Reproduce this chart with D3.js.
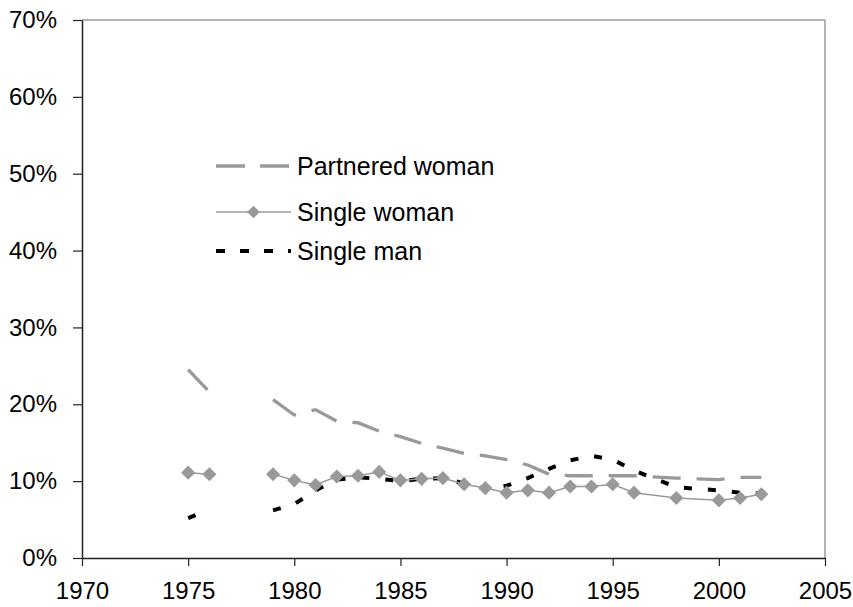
<!DOCTYPE html>
<html>
<head>
<meta charset="utf-8">
<script src="https://cdn.jsdelivr.net/npm/d3@7"></script>
<style>
html,body{margin:0;padding:0;background:#fff;}
svg{display:block;}
text{font-family:"Liberation Sans",Arial,sans-serif;fill:#000;}
</style>
</head>
<body>
<svg id="chart" width="853" height="607"></svg>
<script>
// Data
const years = [1975,1976,1977,1978,1979,1980,1981,1982,1983,1984,1985,1986,1987,1988,1989,1990,1991,1992,1993,1994,1995,1996,1998,2000,2001,2002];
const partneredWoman = [24.5,21.6,null,null,20.6,18.6,19.3,17.8,17.6,16.5,15.8,14.9,14.3,13.6,13.3,12.8,12.1,10.9,10.7,10.7,10.7,10.7,10.4,10.2,10.5,10.5];
const singleWoman = [11.1,10.9,null,null,10.9,10.1,9.5,10.6,10.7,11.2,10.1,10.3,10.4,9.6,9.1,8.5,8.8,8.5,9.3,9.3,9.6,8.5,7.8,7.5,7.8,8.3];
const singleMan = [5.2,6.3,null,null,6.2,7.0,8.8,10.2,10.5,10.3,10.0,10.3,10.4,9.7,9.0,9.4,10.4,11.6,12.7,13.3,12.8,11.4,9.2,8.8,8.5,8.4];
const xTicks = [1970,1975,1980,1985,1990,1995,2000,2005];
const yTicks = [0,10,20,30,40,50,60,70];
const seriesNames = ["Partnered woman","Single woman","Single man"];

const svg = d3.select("#chart");
const L = 82, R = 825, T = 20, B = 558;
const x = d3.scaleLinear().domain([1970,2005]).range([L,R]);
const y = d3.scaleLinear().domain([0,70]).range([B,T]);

// frame (top/right gray)
svg.append("line").attr("x1",L).attr("x2",R).attr("y1",T).attr("y2",T).attr("stroke","#999").attr("stroke-width",1.5);
svg.append("line").attr("x1",R).attr("x2",R).attr("y1",T).attr("y2",B).attr("stroke","#999").attr("stroke-width",1.5);

// axes
const xAxis = d3.axisBottom(x).tickValues(xTicks).tickFormat(d3.format("d")).tickSizeInner(8).tickSizeOuter(0).tickPadding(16);
const gx = svg.append("g").attr("transform",`translate(0,${B})`).call(xAxis);
gx.select(".domain").attr("stroke","#222").attr("stroke-width",1.5);
gx.selectAll(".tick line").attr("stroke","#222").attr("stroke-width",1.2);
gx.selectAll("text").attr("font-size",24).attr("font-family","Liberation Sans, Arial, sans-serif").attr("fill","#000");

const yAxis = d3.axisLeft(y).tickValues(yTicks).tickFormat(d => d + "%").tickSizeInner(9).tickSizeOuter(0).tickPadding(16);
const gy = svg.append("g").attr("transform",`translate(${L},0)`).call(yAxis);
gy.select(".domain").attr("stroke","#222").attr("stroke-width",1.5);
gy.selectAll(".tick line").attr("stroke","#222").attr("stroke-width",1.2);
gy.selectAll("text").attr("font-size",24).attr("font-family","Liberation Sans, Arial, sans-serif").attr("fill","#000");

const mk = arr => years.map((yr,i)=>({yr, v:arr[i]}));
const line = d3.line().defined(d=>d.v!=null).x(d=>x(d.yr)).y(d=>y(d.v));

// partnered woman
svg.append("path").datum(mk(partneredWoman)).attr("d",line)
  .attr("fill","none").attr("stroke","#999").attr("stroke-width",3.3).attr("stroke-dasharray","28,16");
// single man
svg.append("path").datum(mk(singleMan)).attr("d",line)
  .attr("fill","none").attr("stroke","#000").attr("stroke-width",4).attr("stroke-dasharray","8,16");
// single woman
svg.append("path").datum(mk(singleWoman)).attr("d",line)
  .attr("fill","none").attr("stroke","#999").attr("stroke-width",1.5);
svg.selectAll(".sw").data(mk(singleWoman).filter(d=>d.v!=null)).enter().append("rect")
  .attr("x",-5).attr("y",-5).attr("width",10).attr("height",10)
  .attr("transform",d=>`translate(${x(d.yr)},${y(d.v)}) rotate(45)`)
  .attr("fill","#999");

// legend
const lg = svg.append("g");
const lx1 = 216, lx2 = 291, tx = 297;
const ly = [166, 212, 251];
lg.append("line").attr("x1",lx1).attr("x2",lx2).attr("y1",ly[0]).attr("y2",ly[0])
  .attr("stroke","#999").attr("stroke-width",3.3).attr("stroke-dasharray","29,15");
lg.append("line").attr("x1",lx1).attr("x2",lx2).attr("y1",ly[1]).attr("y2",ly[1])
  .attr("stroke","#999").attr("stroke-width",1.5);
lg.append("rect").attr("x",-4.5).attr("y",-4.5).attr("width",9).attr("height",9)
  .attr("transform",`translate(${(lx1+lx2)/2},${ly[1]}) rotate(45)`).attr("fill","#999");
lg.append("line").attr("x1",lx1).attr("x2",lx2).attr("y1",ly[2]).attr("y2",ly[2])
  .attr("stroke","#000").attr("stroke-width",4).attr("stroke-dasharray","9,15");
seriesNames.forEach((n,i)=>{
  lg.append("text").attr("x",tx).attr("y",ly[i]).attr("dy","0.35em").attr("font-size",25).text(n);
});
</script>
</body>
</html>
